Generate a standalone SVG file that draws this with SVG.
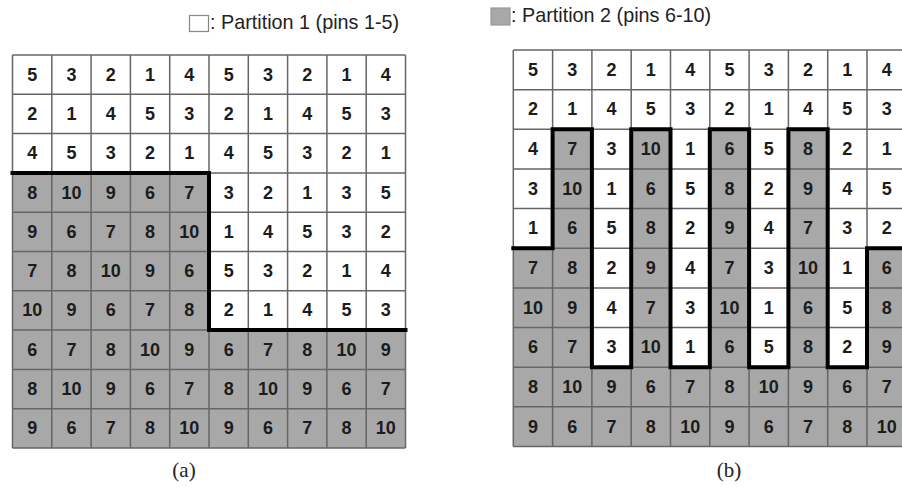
<svg xmlns="http://www.w3.org/2000/svg" width="902" height="487" viewBox="0 0 902 487">
<style>
.num{font-family:"Liberation Sans",Arial,sans-serif;font-weight:bold;font-size:18px;fill:#1c1c1c;text-anchor:middle;dominant-baseline:central}
.leg{font-family:"Liberation Sans",Arial,sans-serif;font-size:19.8px;fill:#222}
.cap{font-family:"Liberation Serif","Times New Roman",serif;font-size:21px;fill:#222;text-anchor:middle}
.g{fill:#a8a8a8}
.grid{stroke:#666;stroke-width:1.5;fill:none}
.bd{stroke:#000;stroke-width:4;fill:none;stroke-linejoin:miter;stroke-linecap:square}
</style>
<rect width="902" height="487" fill="#fff"/>
<g id="legend1">
<rect x="189.5" y="15.5" width="19" height="16" fill="#fff" stroke="#888" stroke-width="1.2"/>
<text class="leg" x="210" y="29">: Partition 1 (pins 1-5)</text>
</g>
<g id="legend2">
<rect x="491" y="8" width="19" height="17" fill="#a8a8a8" stroke="#999" stroke-width="1.2"/>
<text class="leg" x="511" y="21.5">: Partition 2 (pins 6-10)</text>
</g>
<g id="panel-a">
<rect class="g" x="12.5" y="172.9" width="196.5" height="157.2"/>
<rect class="g" x="12.5" y="330.1" width="393" height="117.9"/>
<path class="grid" d="M12.5,55V448M51.8,55V448M91.1,55V448M130.4,55V448M169.7,55V448M209,55V448M248.3,55V448M287.6,55V448M326.9,55V448M366.2,55V448M405.5,55V448M12.5,55H405.5M12.5,94.3H405.5M12.5,133.6H405.5M12.5,172.9H405.5M12.5,212.2H405.5M12.5,251.5H405.5M12.5,290.8H405.5M12.5,330.1H405.5M12.5,369.4H405.5M12.5,408.7H405.5M12.5,448H405.5"/>
<path class="bd" d="M12.5,172.9H209V330.1H405.5"/>
<g id="a-numbers">
<text class="num" y="74.65"><tspan x="32.15">5</tspan><tspan x="71.45">3</tspan><tspan x="110.75">2</tspan><tspan x="150.05">1</tspan><tspan x="189.35">4</tspan><tspan x="228.65">5</tspan><tspan x="267.95">3</tspan><tspan x="307.25">2</tspan><tspan x="346.55">1</tspan><tspan x="385.85">4</tspan></text>
<text class="num" y="113.95"><tspan x="32.15">2</tspan><tspan x="71.45">1</tspan><tspan x="110.75">4</tspan><tspan x="150.05">5</tspan><tspan x="189.35">3</tspan><tspan x="228.65">2</tspan><tspan x="267.95">1</tspan><tspan x="307.25">4</tspan><tspan x="346.55">5</tspan><tspan x="385.85">3</tspan></text>
<text class="num" y="153.25"><tspan x="32.15">4</tspan><tspan x="71.45">5</tspan><tspan x="110.75">3</tspan><tspan x="150.05">2</tspan><tspan x="189.35">1</tspan><tspan x="228.65">4</tspan><tspan x="267.95">5</tspan><tspan x="307.25">3</tspan><tspan x="346.55">2</tspan><tspan x="385.85">1</tspan></text>
<text class="num" y="192.55"><tspan x="32.15">8</tspan><tspan x="71.45">10</tspan><tspan x="110.75">9</tspan><tspan x="150.05">6</tspan><tspan x="189.35">7</tspan><tspan x="228.65">3</tspan><tspan x="267.95">2</tspan><tspan x="307.25">1</tspan><tspan x="346.55">3</tspan><tspan x="385.85">5</tspan></text>
<text class="num" y="231.85"><tspan x="32.15">9</tspan><tspan x="71.45">6</tspan><tspan x="110.75">7</tspan><tspan x="150.05">8</tspan><tspan x="189.35">10</tspan><tspan x="228.65">1</tspan><tspan x="267.95">4</tspan><tspan x="307.25">5</tspan><tspan x="346.55">3</tspan><tspan x="385.85">2</tspan></text>
<text class="num" y="271.15"><tspan x="32.15">7</tspan><tspan x="71.45">8</tspan><tspan x="110.75">10</tspan><tspan x="150.05">9</tspan><tspan x="189.35">6</tspan><tspan x="228.65">5</tspan><tspan x="267.95">3</tspan><tspan x="307.25">2</tspan><tspan x="346.55">1</tspan><tspan x="385.85">4</tspan></text>
<text class="num" y="310.45"><tspan x="32.15">10</tspan><tspan x="71.45">9</tspan><tspan x="110.75">6</tspan><tspan x="150.05">7</tspan><tspan x="189.35">8</tspan><tspan x="228.65">2</tspan><tspan x="267.95">1</tspan><tspan x="307.25">4</tspan><tspan x="346.55">5</tspan><tspan x="385.85">3</tspan></text>
<text class="num" y="349.75"><tspan x="32.15">6</tspan><tspan x="71.45">7</tspan><tspan x="110.75">8</tspan><tspan x="150.05">10</tspan><tspan x="189.35">9</tspan><tspan x="228.65">6</tspan><tspan x="267.95">7</tspan><tspan x="307.25">8</tspan><tspan x="346.55">10</tspan><tspan x="385.85">9</tspan></text>
<text class="num" y="389.05"><tspan x="32.15">8</tspan><tspan x="71.45">10</tspan><tspan x="110.75">9</tspan><tspan x="150.05">6</tspan><tspan x="189.35">7</tspan><tspan x="228.65">8</tspan><tspan x="267.95">10</tspan><tspan x="307.25">9</tspan><tspan x="346.55">6</tspan><tspan x="385.85">7</tspan></text>
<text class="num" y="428.35"><tspan x="32.15">9</tspan><tspan x="71.45">6</tspan><tspan x="110.75">7</tspan><tspan x="150.05">8</tspan><tspan x="189.35">10</tspan><tspan x="228.65">9</tspan><tspan x="267.95">6</tspan><tspan x="307.25">7</tspan><tspan x="346.55">8</tspan><tspan x="385.85">10</tspan></text>
</g>
<text class="cap" x="184" y="476.5">(a)</text>
</g>
<g id="panel-b">
<rect class="g" x="552.6" y="129.3" width="39.3" height="237.9"/>
<rect class="g" x="631.2" y="129.3" width="39.3" height="237.9"/>
<rect class="g" x="709.8" y="129.3" width="39.3" height="237.9"/>
<rect class="g" x="788.4" y="129.3" width="39.3" height="237.9"/>
<rect class="g" x="513.3" y="248.25" width="39.3" height="118.95"/>
<rect class="g" x="867" y="248.25" width="39.3" height="118.95"/>
<rect class="g" x="513.3" y="367.2" width="393" height="79.3"/>
<path class="grid" d="M513.3,50V446.5M552.6,50V446.5M591.9,50V446.5M631.2,50V446.5M670.5,50V446.5M709.8,50V446.5M749.1,50V446.5M788.4,50V446.5M827.7,50V446.5M867,50V446.5M513.3,50H906.3M513.3,89.65H906.3M513.3,129.3H906.3M513.3,168.95H906.3M513.3,208.6H906.3M513.3,248.25H906.3M513.3,287.9H906.3M513.3,327.55H906.3M513.3,367.2H906.3M513.3,406.85H906.3M513.3,446.5H906.3"/>
<path class="bd" d="M513.3,248.25H552.6V129.3H591.9V367.2H631.2V129.3H670.5V367.2H709.8V129.3H749.1V367.2H788.4V129.3H827.7V367.2H867V248.25H906.3"/>
<g id="b-numbers">
<text class="num" y="69.83"><tspan x="532.95">5</tspan><tspan x="572.25">3</tspan><tspan x="611.55">2</tspan><tspan x="650.85">1</tspan><tspan x="690.15">4</tspan><tspan x="729.45">5</tspan><tspan x="768.75">3</tspan><tspan x="808.05">2</tspan><tspan x="847.35">1</tspan><tspan x="886.65">4</tspan></text>
<text class="num" y="109.48"><tspan x="532.95">2</tspan><tspan x="572.25">1</tspan><tspan x="611.55">4</tspan><tspan x="650.85">5</tspan><tspan x="690.15">3</tspan><tspan x="729.45">2</tspan><tspan x="768.75">1</tspan><tspan x="808.05">4</tspan><tspan x="847.35">5</tspan><tspan x="886.65">3</tspan></text>
<text class="num" y="149.13"><tspan x="532.95">4</tspan><tspan x="572.25">7</tspan><tspan x="611.55">3</tspan><tspan x="650.85">10</tspan><tspan x="690.15">1</tspan><tspan x="729.45">6</tspan><tspan x="768.75">5</tspan><tspan x="808.05">8</tspan><tspan x="847.35">2</tspan><tspan x="886.65">1</tspan></text>
<text class="num" y="188.78"><tspan x="532.95">3</tspan><tspan x="572.25">10</tspan><tspan x="611.55">1</tspan><tspan x="650.85">6</tspan><tspan x="690.15">5</tspan><tspan x="729.45">8</tspan><tspan x="768.75">2</tspan><tspan x="808.05">9</tspan><tspan x="847.35">4</tspan><tspan x="886.65">5</tspan></text>
<text class="num" y="228.43"><tspan x="532.95">1</tspan><tspan x="572.25">6</tspan><tspan x="611.55">5</tspan><tspan x="650.85">8</tspan><tspan x="690.15">2</tspan><tspan x="729.45">9</tspan><tspan x="768.75">4</tspan><tspan x="808.05">7</tspan><tspan x="847.35">3</tspan><tspan x="886.65">2</tspan></text>
<text class="num" y="268.08"><tspan x="532.95">7</tspan><tspan x="572.25">8</tspan><tspan x="611.55">2</tspan><tspan x="650.85">9</tspan><tspan x="690.15">4</tspan><tspan x="729.45">7</tspan><tspan x="768.75">3</tspan><tspan x="808.05">10</tspan><tspan x="847.35">1</tspan><tspan x="886.65">6</tspan></text>
<text class="num" y="307.73"><tspan x="532.95">10</tspan><tspan x="572.25">9</tspan><tspan x="611.55">4</tspan><tspan x="650.85">7</tspan><tspan x="690.15">3</tspan><tspan x="729.45">10</tspan><tspan x="768.75">1</tspan><tspan x="808.05">6</tspan><tspan x="847.35">5</tspan><tspan x="886.65">8</tspan></text>
<text class="num" y="347.38"><tspan x="532.95">6</tspan><tspan x="572.25">7</tspan><tspan x="611.55">3</tspan><tspan x="650.85">10</tspan><tspan x="690.15">1</tspan><tspan x="729.45">6</tspan><tspan x="768.75">5</tspan><tspan x="808.05">8</tspan><tspan x="847.35">2</tspan><tspan x="886.65">9</tspan></text>
<text class="num" y="387.03"><tspan x="532.95">8</tspan><tspan x="572.25">10</tspan><tspan x="611.55">9</tspan><tspan x="650.85">6</tspan><tspan x="690.15">7</tspan><tspan x="729.45">8</tspan><tspan x="768.75">10</tspan><tspan x="808.05">9</tspan><tspan x="847.35">6</tspan><tspan x="886.65">7</tspan></text>
<text class="num" y="426.68"><tspan x="532.95">9</tspan><tspan x="572.25">6</tspan><tspan x="611.55">7</tspan><tspan x="650.85">8</tspan><tspan x="690.15">10</tspan><tspan x="729.45">9</tspan><tspan x="768.75">6</tspan><tspan x="808.05">7</tspan><tspan x="847.35">8</tspan><tspan x="886.65">10</tspan></text>
</g>
<text class="cap" x="729" y="477">(b)</text>
</g>
</svg>
